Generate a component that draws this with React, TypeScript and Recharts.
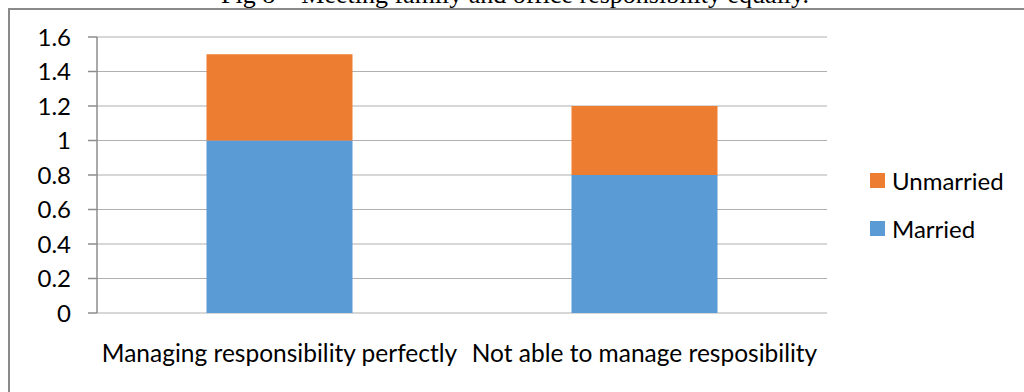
import { BarChart, Bar, XAxis, YAxis, CartesianGrid } from 'recharts';

const categories = ['Managing responsibility perfectly', 'Not able to manage resposibility'];
const married = [1, 0.8];
const unmarried = [0.5, 0.4];
const yTicks = [0, 0.2, 0.4, 0.6, 0.8, 1, 1.2, 1.4, 1.6];

const data = categories.map((name, i) => ({
  name,
  idx: i + 0.5,
  Married: married[i],
  Unmarried: unmarried[i],
}));

const series = [
  { key: 'Unmarried', color: '#ed7d31' },
  { key: 'Married', color: '#5b9bd5' },
];

const font = 'Lato, "Open Sans", sans-serif';
const axisGray = '#8c8c8c';

const fmt = (v: number) => {
  const s = v.toFixed(1);
  return s.endsWith('.0') ? s.slice(0, -2) : s;
};

export default function App() {
  return (
    <div style={{ position: 'absolute', left: 0, top: 0, width: 1024, height: 392, overflow: 'hidden', background: '#fff' }}>
      <div
        style={{
          position: 'absolute',
          left: 0,
          right: 0,
          top: -20,
          textAlign: 'center',
          paddingLeft: 6,
          fontFamily: '"Liberation Serif", "Times New Roman", serif',
          fontSize: 26,
          lineHeight: '30px',
          color: '#000',
          whiteSpace: 'nowrap',
        }}
      >
        Fig 8 – Meeting family and office responsibility equally.
      </div>
      <div
        style={{
          position: 'absolute',
          left: 8,
          top: 8,
          width: 1100,
          height: 500,
          background: '#fff',
          borderLeft: '2px solid #8a8a8a',
          borderTop: '2px solid #8a8a8a',
        }}
      />
      <div style={{ position: 'absolute', left: 0, top: 0 }}>
        <BarChart width={1024} height={392} data={data} margin={{ top: 37, right: 197, bottom: 0, left: 0 }} barCategoryGap="30%">
          <CartesianGrid horizontal vertical={false} stroke="#b0b0b0" strokeWidth={1.2} />
          <XAxis
            xAxisId="b"
            dataKey="idx"
            type="number"
            domain={[0, 2]}
            ticks={[0, 1, 2]}
            height={0}
            tick={false}
            tickSize={8}
            tickLine={{ stroke: axisGray, strokeWidth: 1.5 }}
            axisLine={{ stroke: axisGray, strokeWidth: 1.5 }}
          />
          <XAxis
            dataKey="name"
            height={79}
            axisLine={false}
            tickLine={false}
            tickSize={0}
            tickMargin={32}
            interval={0}
            tick={{ fontFamily: font, fontSize: 24.5, fill: '#000' }}
          />
          <YAxis
            domain={[0, 1.6]}
            ticks={yTicks}
            tickFormatter={fmt}
            width={97}
            tickSize={9}
            tickMargin={17}
            tickLine={{ stroke: axisGray, strokeWidth: 1.5 }}
            axisLine={{ stroke: axisGray, strokeWidth: 1.5 }}
            tick={{ fontFamily: font, fontSize: 24, fill: '#000' }}
          />
          <Bar dataKey="Married" stackId="a" fill="#5b9bd5" isAnimationActive={false} />
          <Bar dataKey="Unmarried" stackId="a" fill="#ed7d31" isAnimationActive={false} />
        </BarChart>
      </div>
      <div style={{ position: 'absolute', left: 870, top: 156, fontFamily: font, fontSize: 24, color: '#000' }}>
        {series.map((s) => (
          <div key={s.key} style={{ display: 'flex', alignItems: 'center', height: 48 }}>
            <span style={{ width: 15, height: 15, background: s.color, display: 'inline-block', marginRight: 7 }} />
            <span>{s.key}</span>
          </div>
        ))}
      </div>
    </div>
  );
}
